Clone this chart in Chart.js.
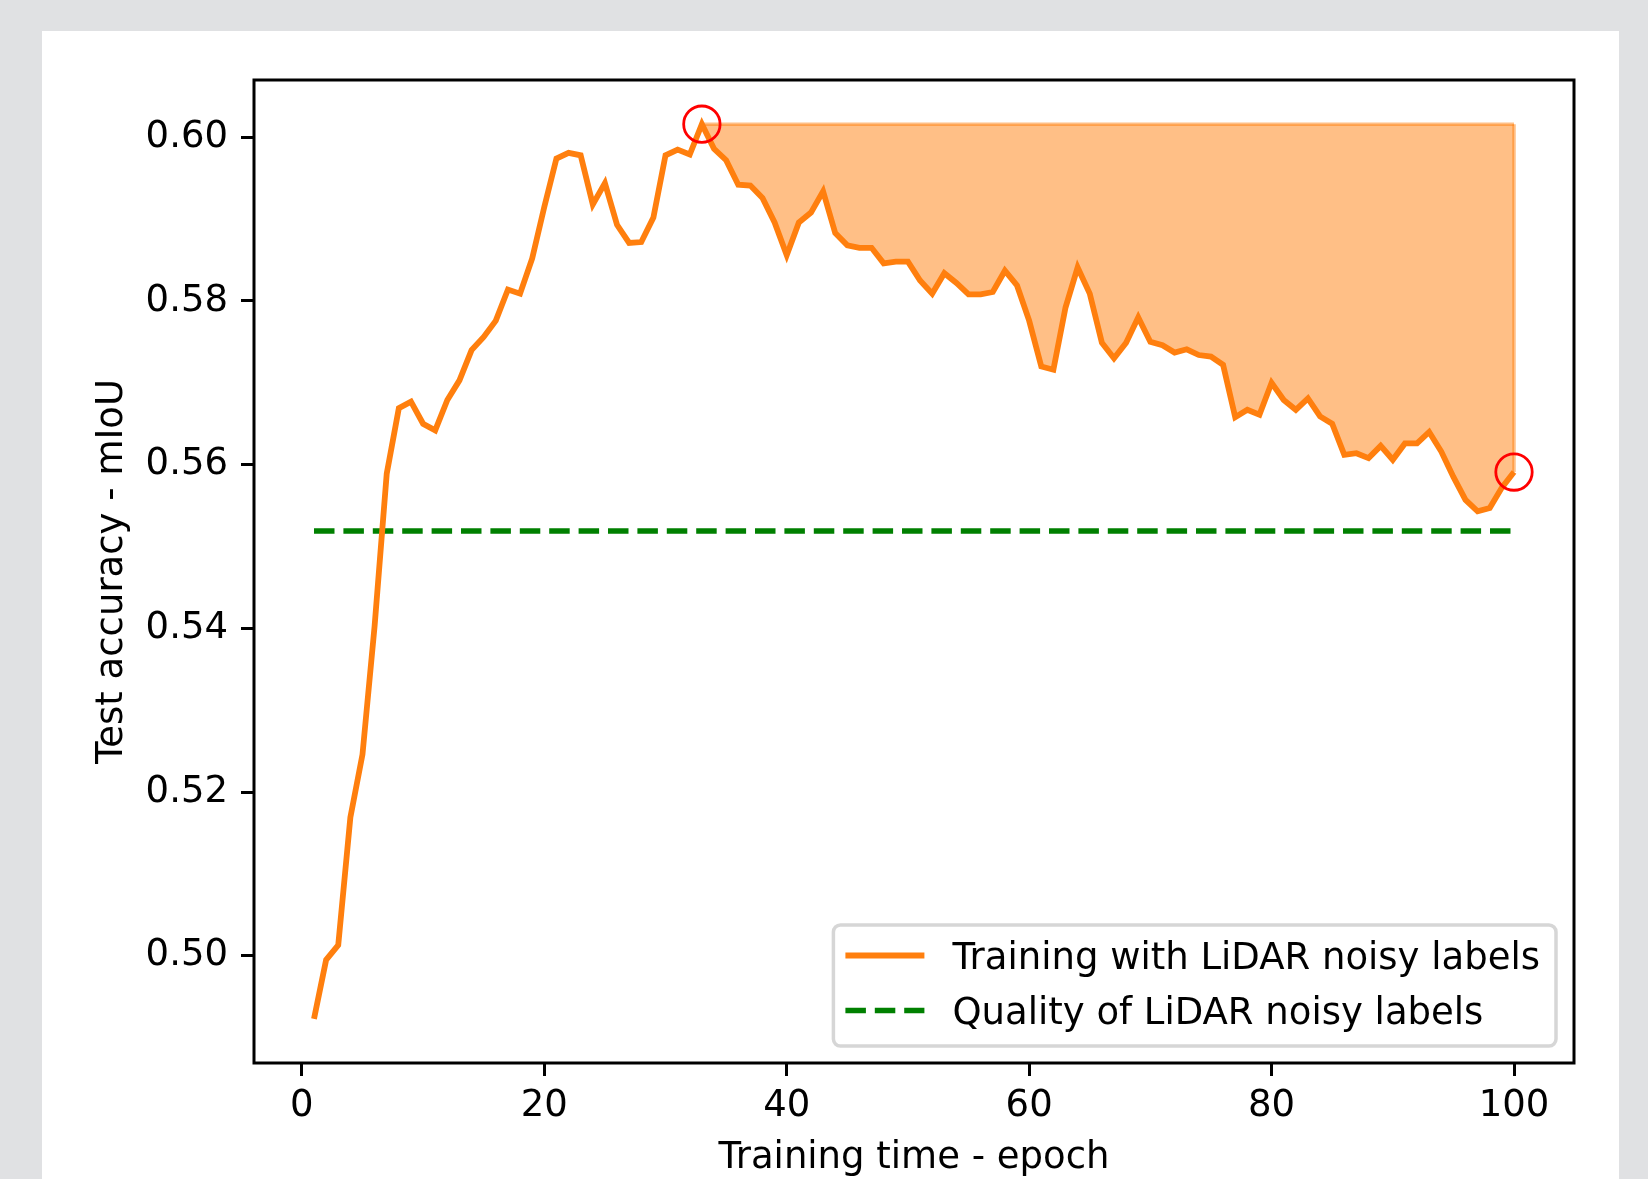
<!DOCTYPE html>
<html>
<head>
<meta charset="utf-8">
<title>Test accuracy vs training time</title>
<script src="https://cdn.jsdelivr.net/npm/chart.js@4.4.1/dist/chart.umd.min.js"></script>
<style>
    html, body { margin: 0; padding: 0; width: 1648px; height: 1179px; overflow: hidden; background: #e0e1e3; }
    #card { position: absolute; left: 42px; top: 31px; width: 1577px; height: 1148px; background: #fff; }
    #chart { position: absolute; left: 0; top: 0; }
</style>
</head>
<body>
<div id="card"></div>
<canvas id="chart" width="1648" height="1179"></canvas>
<script>
// ---- data ----
const epochs = [
    1, 2, 3, 4, 5, 6, 7, 8, 9, 10,
    11, 12, 13, 14, 15, 16, 17, 18, 19, 20,
    21, 22, 23, 24, 25, 26, 27, 28, 29, 30,
    31, 32, 33, 34, 35, 36, 37, 38, 39, 40,
    41, 42, 43, 44, 45, 46, 47, 48, 49, 50,
    51, 52, 53, 54, 55, 56, 57, 58, 59, 60,
    61, 62, 63, 64, 65, 66, 67, 68, 69, 70,
    71, 72, 73, 74, 75, 76, 77, 78, 79, 80,
    81, 82, 83, 84, 85, 86, 87, 88, 89, 90,
    91, 92, 93, 94, 95, 96, 97, 98, 99, 100
];
const accuracy = [
    0.4923, 0.4995, 0.5013, 0.5169, 0.5246, 0.5403, 0.5589, 0.5669, 0.5677, 0.5650,
    0.5642, 0.5679, 0.5703, 0.5740, 0.5756, 0.5776, 0.5814, 0.5809, 0.5852, 0.5915,
    0.5974, 0.5981, 0.5978, 0.5918, 0.5944, 0.5893, 0.5871, 0.5872, 0.5902, 0.5978,
    0.5985, 0.5979, 0.6016, 0.5986, 0.5972, 0.5942, 0.5941, 0.5926, 0.5896, 0.5856,
    0.5896, 0.5908, 0.5934, 0.5883, 0.5868, 0.5865, 0.5865, 0.5846, 0.5848, 0.5848,
    0.5825, 0.5809, 0.5834, 0.5822, 0.5808, 0.5808, 0.5811, 0.5837, 0.5819, 0.5776,
    0.5720, 0.5716, 0.5792, 0.5841, 0.5809, 0.5749, 0.5730, 0.5749, 0.5780, 0.5750,
    0.5746, 0.5737, 0.5741, 0.5734, 0.5732, 0.5722, 0.5658, 0.5667, 0.5661, 0.5700,
    0.5679, 0.5667, 0.5681, 0.5659, 0.5650, 0.5612, 0.5614, 0.5608, 0.5623, 0.5606,
    0.5626, 0.5626, 0.5640, 0.5616, 0.5585, 0.5557, 0.5543, 0.5547, 0.5572, 0.5591
];
const baselineEpochs = [1, 100];
const baselineValue = 0.5519;
const markedEpochs = [33, 100];   // red circles: best epoch and last epoch

const xTicks = [0, 20, 40, 60, 80, 100];
const xTickLabels = ['0', '20', '40', '60', '80', '100'];
const yTicks = [0.50, 0.52, 0.54, 0.56, 0.58, 0.60];
const yTickLabels = ['0.50', '0.52', '0.54', '0.56', '0.58', '0.60'];

const xLabel = 'Training time - epoch';
const yLabel = 'Test accuracy - mIoU';
const curveLabel = 'Training with LiDAR noisy labels';
const baselineLabel = 'Quality of LiDAR noisy labels';

// ---- helpers ----
const valueAt = e => accuracy[epochs.indexOf(e)];
const bestEpoch = markedEpochs[0];
const lastEpoch = markedEpochs[1];
const bestValue = valueAt(bestEpoch);

const ORANGE = '#ff7f0e';
const ORANGE_HALF = 'rgba(255,127,14,0.5)';
const FONT = { family: '"DejaVu Sans"', size: 37, lineHeight: 1.2 };

Chart.defaults.font.family = FONT.family;
Chart.defaults.color = '#000';

// box around the plot, like matplotlib spines
const framePlugin = {
    id: 'frame',
    afterDatasetsDraw(chart) {
        const { ctx, chartArea: a } = chart;
        ctx.save();
        ctx.strokeStyle = '#000';
        ctx.lineWidth = 3;
        ctx.strokeRect(a.left, a.top, a.right - a.left, a.bottom - a.top);
        ctx.restore();
    }
};

// matplotlib style legend in the lower right corner
const legendPlugin = {
    id: 'mplLegend',
    afterDraw(chart) {
        const { ctx, chartArea: a } = chart;
        const items = chart.data.datasets.filter(d => d.inLegend);
        ctx.save();
        ctx.font = FONT.size + 'px ' + FONT.family;
        const textW = Math.max(...items.map(d => ctx.measureText(d.label).width));
        const w = 119 + textW + 16;
        const h = 121;
        const right = a.right - 18, bottom = a.bottom - 17;
        const left = right - w, top = bottom - h;

        ctx.beginPath();
        ctx.roundRect(left, top, w, h, 7);
        ctx.fillStyle = 'rgba(255,255,255,0.8)';
        ctx.fill();
        ctx.strokeStyle = 'rgba(204,204,204,0.8)';
        ctx.lineWidth = 3.5;
        ctx.stroke();

        items.forEach((d, i) => {
            const y = top + 30.5 + i * 55;
            ctx.beginPath();
            ctx.setLineDash(d.borderDash || []);
            ctx.moveTo(left + 12, y);
            ctx.lineTo(left + 91, y);
            ctx.strokeStyle = d.borderColor;
            ctx.lineWidth = d.borderWidth;
            ctx.lineCap = 'butt';
            ctx.stroke();
            ctx.setLineDash([]);
            ctx.fillStyle = '#000';
            ctx.textBaseline = 'alphabetic';
            ctx.fillText(d.label, left + 119, y + 13.5);
        });
        ctx.restore();
    }
};

new Chart(document.getElementById('chart'), {
    type: 'line',
    data: {
        datasets: [
            {
                label: curveLabel,
                inLegend: true,
                data: epochs.map((e, i) => ({ x: e, y: accuracy[i] })),
                borderColor: ORANGE,
                borderWidth: 5.8,
                pointRadius: 0,
                tension: 0,
                fill: false,
                order: 1
            },
            {
                label: baselineLabel,
                inLegend: true,
                data: baselineEpochs.map(e => ({ x: e, y: baselineValue })),
                borderColor: '#008000',
                borderWidth: 5.5,
                borderDash: [20.5, 8.9],
                pointRadius: 0,
                fill: false,
                order: 2
            },
            {
                // gap between the best accuracy and the curve afterwards
                label: 'gap',
                data: [{ x: bestEpoch, y: bestValue }, { x: lastEpoch, y: bestValue }],
                borderColor: ORANGE_HALF,
                borderWidth: 3.5,
                pointRadius: 0,
                backgroundColor: ORANGE_HALF,
                fill: { target: 0, above: ORANGE_HALF, below: ORANGE_HALF },
                order: 3
            },
            {
                label: 'gap edge',
                data: [{ x: lastEpoch, y: bestValue }, { x: lastEpoch, y: valueAt(lastEpoch) }],
                borderColor: ORANGE_HALF,
                borderWidth: 3.5,
                pointRadius: 0,
                fill: false,
                order: 3
            },
            {
                label: 'marks',
                data: markedEpochs.map(e => ({ x: e, y: valueAt(e) })),
                showLine: false,
                pointRadius: 18.2,
                pointBorderWidth: 2.8,
                pointBorderColor: '#ff0000',
                pointBackgroundColor: 'rgba(0,0,0,0)',
                fill: false,
                order: 0
            }
        ]
    },
    options: {
        responsive: false,
        devicePixelRatio: 1,
        animation: false,
        events: [],
        layout: { padding: { top: 80, right: 74, left: 0, bottom: 0 } },
        plugins: { legend: { display: false }, tooltip: { enabled: false } },
        scales: {
            x: {
                type: 'linear',
                min: -3.95,
                max: 104.95,
                afterBuildTicks: s => { s.ticks = xTicks.map(v => ({ value: v })); },
                afterFit: s => { s.height = 116; },
                ticks: {
                    font: FONT, color: '#000', padding: 8, autoSkip: false, maxRotation: 0,
                    callback: (v, i) => xTickLabels[i]
                },
                grid: { drawOnChartArea: false, drawTicks: true, tickLength: 13, tickWidth: 3, tickColor: '#000' },
                border: { display: false },
                title: {
                    display: true, text: xLabel, color: '#000',
                    font: { family: FONT.family, size: FONT.size, lineHeight: 1.1 },
                    padding: { top: 0.5, bottom: 0 }
                }
            },
            y: {
                type: 'linear',
                min: 0.4869,
                max: 0.6070,
                afterBuildTicks: s => { s.ticks = yTicks.map(v => ({ value: v })); },
                afterFit: s => { s.width = 254; },
                ticks: {
                    font: FONT, color: '#000', padding: 13, autoSkip: false,
                    callback: (v, i) => yTickLabels[i]
                },
                grid: { drawOnChartArea: false, drawTicks: true, tickLength: 13, tickWidth: 3, tickColor: '#000' },
                border: { display: false },
                title: { display: true, text: yLabel, font: FONT, color: '#000', padding: { top: 89.8, bottom: 0 } }
            }
        }
    },
    plugins: [framePlugin, legendPlugin]
});
</script>
</body>
</html>
